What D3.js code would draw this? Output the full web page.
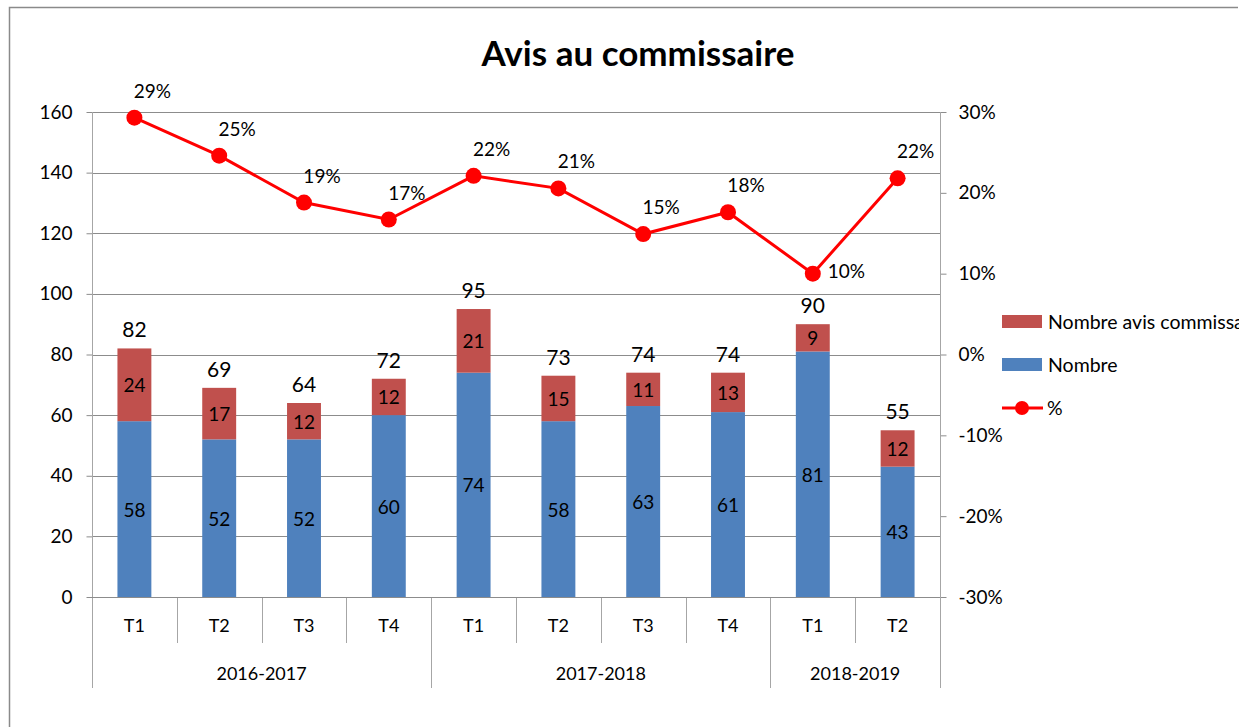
<!DOCTYPE html>
<html><head><meta charset="utf-8">
<script src="https://cdn.jsdelivr.net/npm/d3@7"></script>
<style>html,body{margin:0;padding:0;background:#fff;}svg{display:block;font-family:Lato,"Open Sans",sans-serif;}</style>
</head><body>
<svg id="c" width="1256" height="727"></svg>
<script>
const periods = ['T1','T2','T3','T4','T1','T2','T3','T4','T1','T2'];
const years = ['2016-2017','2017-2018','2018-2019'];
const yearSpan = [4,4,2];
const nombre = [58,52,52,60,74,58,63,61,81,43];
const avis = [24,17,12,12,21,15,11,13,9,12];
const pct = [0.293,0.246,0.188,0.167,0.221,0.2055,0.149,0.176,0.100,0.218];
const leftTicks = [0,20,40,60,80,100,120,140,160];
const rightTicks = [-0.3,-0.2,-0.1,0,0.1,0.2,0.3];
const seriesNames = ['Nombre avis commissaire','Nombre','%'];

const blue = '#4F81BD', red = '#C0504D', lineRed = '#FF0000', grid = '#8c8c8c', axisC = '#a6a6a6';
const svg = d3.select('#c');
svg.append('defs').append('clipPath').attr('id','clip').append('rect').attr('x',0).attr('y',0).attr('width',1239).attr('height',727);
const g = svg.append('g').attr('clip-path','url(#clip)');

// outer frame
g.append('path').attr('d','M9.5,727 V7.5 H1238').attr('fill','none').attr('stroke','#8a8a8a').attr('stroke-width',1.5);

const L = 92, R = 940, T = 112, B = 597;
const idx = d3.range(periods.length);
const x = d3.scaleBand().domain(idx).range([L,R]).padding(0);
const y = d3.scaleLinear().domain([0,160]).range([B,T]);
const yR = d3.scaleLinear().domain([-0.3,0.3]).range([B,T]);
const barW = x.bandwidth()*0.4;
const pctFmt = d => d3.format('.0%')(d).replace('\u2212','-');

// title
g.append('text').attr('x',638).attr('y',66).attr('text-anchor','middle').attr('font-size',35).attr('font-weight','bold').attr('fill','#000').text('Avis au commissaire');

// gridlines
g.append('g').selectAll('line').data(leftTicks.filter(d=>d>0)).join('line')
  .attr('x1',L).attr('x2',R).attr('y1',d=>Math.round(y(d))+0.5).attr('y2',d=>Math.round(y(d))+0.5)
  .attr('stroke',grid).attr('stroke-width',1);

// left axis
const la = g.append('g').attr('transform',`translate(${L+0.5},0)`).call(d3.axisLeft(y).tickValues(leftTicks).tickSize(6).tickPadding(14));
la.select('.domain').remove();
la.selectAll('line').attr('stroke',grid);
la.selectAll('text').attr('font-size',19).attr('fill','#000').attr('font-family','Lato');
g.append('line').attr('x1',L+0.5).attr('x2',L+0.5).attr('y1',T).attr('y2',688).attr('stroke',axisC);

// right axis
const ra = g.append('g').attr('transform',`translate(${R+0.5},0)`).call(d3.axisRight(yR).tickValues(rightTicks).tickSize(6).tickPadding(12).tickFormat(pctFmt));
ra.select('.domain').remove();
ra.selectAll('line').attr('stroke',grid);
ra.selectAll('text').attr('font-size',19).attr('fill','#000').attr('font-family','Lato');
g.append('line').attr('x1',R+0.5).attr('x2',R+0.5).attr('y1',T).attr('y2',688).attr('stroke',axisC);

// bars
const bars = g.append('g');
bars.selectAll('rect.n').data(idx).join('rect').attr('class','n')
  .attr('x',i=>x(i)+(x.bandwidth()-barW)/2).attr('width',barW)
  .attr('y',i=>y(nombre[i])).attr('height',i=>y(0)-y(nombre[i])).attr('fill',blue);
bars.selectAll('rect.a').data(idx).join('rect').attr('class','a')
  .attr('x',i=>x(i)+(x.bandwidth()-barW)/2).attr('width',barW)
  .attr('y',i=>y(nombre[i]+avis[i])).attr('height',i=>y(nombre[i])-y(nombre[i]+avis[i])).attr('fill',red);

// bar labels
const cx = i=>x(i)+x.bandwidth()/2;
bars.selectAll('text.n').data(idx).join('text').attr('class','n')
  .attr('x',cx).attr('y',i=>(y(0)+y(nombre[i]))/2+7.5).attr('text-anchor','middle').attr('font-size',19).attr('fill','#000').text(i=>nombre[i]);
bars.selectAll('text.a').data(idx).join('text').attr('class','a')
  .attr('x',cx).attr('y',i=>(y(nombre[i])+y(nombre[i]+avis[i]))/2+7.5).attr('text-anchor','middle').attr('font-size',19).attr('fill','#000').text(i=>avis[i]);
bars.selectAll('text.t').data(idx).join('text').attr('class','t')
  .attr('x',cx).attr('y',i=>y(nombre[i]+avis[i])-11).attr('text-anchor','middle').attr('font-size',21).attr('fill','#000').text(i=>nombre[i]+avis[i]);

// category axis
const cat = g.append('g');
cat.selectAll('line.sep').data(idx.slice(1)).join('line').attr('class','sep')
  .attr('x1',i=>Math.round(x(i))+0.5).attr('x2',i=>Math.round(x(i))+0.5).attr('y1',B).attr('y2',643).attr('stroke',axisC);
cat.selectAll('text.p').data(idx).join('text').attr('class','p')
  .attr('x',cx).attr('y',632).attr('text-anchor','middle').attr('font-size',18).attr('fill','#000').text(i=>periods[i]);
let start = 0;
const groups = years.map((yr,k)=>{const s=start; start+=yearSpan[k]; return {yr, s, e:start};});
cat.selectAll('line.g').data(groups.slice(1)).join('line').attr('class','g')
  .attr('x1',d=>Math.round(x(d.s))+0.5).attr('x2',d=>Math.round(x(d.s))+0.5).attr('y1',B).attr('y2',688).attr('stroke',axisC);
cat.selectAll('text.y').data(groups).join('text').attr('class','y')
  .attr('x',d=>(x(d.s)+(d.e<periods.length?x(d.e):R))/2).attr('y',680).attr('text-anchor','middle').attr('font-size',18).attr('fill','#000').text(d=>d.yr);
g.append('line').attr('x1',L).attr('x2',R).attr('y1',B+0.5).attr('y2',B+0.5).attr('stroke',grid);

// line series
const line = d3.line().x(i=>cx(i)).y(i=>yR(pct[i]));
g.append('path').datum(idx).attr('d',line).attr('fill','none').attr('stroke',lineRed).attr('stroke-width',3);
g.append('g').selectAll('circle').data(idx).join('circle').attr('cx',cx).attr('cy',i=>yR(pct[i])).attr('r',8).attr('fill',lineRed);
const lowest = d3.minIndex(pct);
g.append('g').selectAll('text').data(idx).join('text')
  .attr('x',i=> i===lowest ? cx(i)+15 : cx(i)+18)
  .attr('y',i=> i===lowest ? yR(pct[i])+4 : yR(pct[i])-20)
  .attr('text-anchor',i=> i===lowest ? 'start' : 'middle')
  .attr('font-size',19).attr('fill','#000').text(i=>pctFmt(pct[i]));

// legend
const lg = g.append('g');
lg.append('rect').attr('x',1002).attr('y',315).attr('width',40).attr('height',13).attr('fill',red);
lg.append('text').attr('x',1048).attr('y',329).attr('font-size',19.5).attr('fill','#000').text(seriesNames[0]);
lg.append('rect').attr('x',1002).attr('y',358).attr('width',40).attr('height',13).attr('fill',blue);
lg.append('text').attr('x',1048).attr('y',372).attr('font-size',19.5).attr('fill','#000').text(seriesNames[1]);
lg.append('line').attr('x1',1002).attr('x2',1043).attr('y1',408).attr('y2',408).attr('stroke',lineRed).attr('stroke-width',3);
lg.append('circle').attr('cx',1022).attr('cy',408).attr('r',7).attr('fill',lineRed);
lg.append('text').attr('x',1047).attr('y',415).attr('font-size',19.5).attr('fill','#000').text(seriesNames[2]);
</script>
</body></html>
